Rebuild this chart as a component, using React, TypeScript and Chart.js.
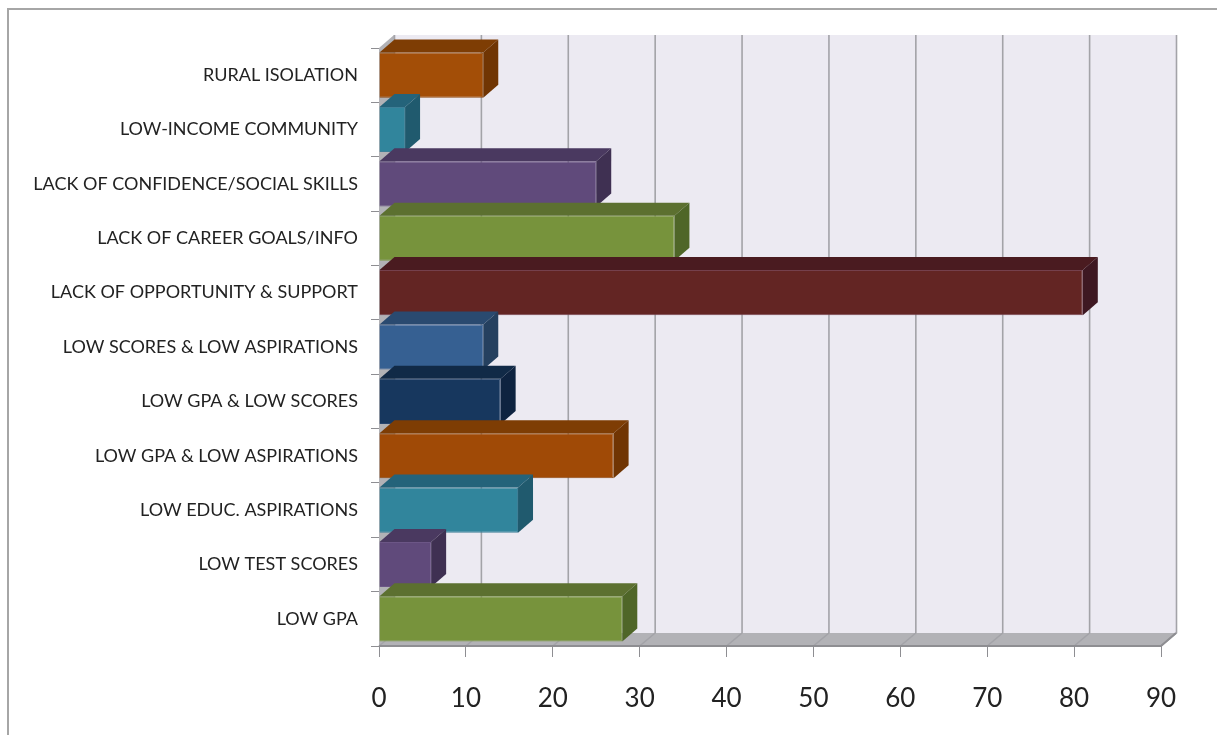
import React, { useEffect, useRef } from "react";
import { Chart, registerables } from "chart.js";

Chart.register(...registerables);

const categories = [
  "RURAL ISOLATION",
  "LOW-INCOME COMMUNITY",
  "LACK OF CONFIDENCE/SOCIAL SKILLS",
  "LACK OF CAREER GOALS/INFO",
  "LACK OF OPPORTUNITY & SUPPORT",
  "LOW SCORES & LOW ASPIRATIONS",
  "LOW GPA & LOW SCORES",
  "LOW GPA & LOW ASPIRATIONS",
  "LOW EDUC. ASPIRATIONS",
  "LOW TEST SCORES",
  "LOW GPA",
];
const values = [12, 3, 25, 34, 81, 12, 14, 27, 16, 6, 28];
const frontColors = ["#A34E07", "#31859C", "#604A7B", "#77933C", "#632523", "#366092", "#17375E", "#A04A06", "#31859C", "#604A7B", "#77933C"];
const topColors = ["#7E3D04", "#24637A", "#4A3960", "#5C7030", "#4A1B20", "#2A4A70", "#112A47", "#7E3D04", "#24637A", "#4A3960", "#5C7030"];
const sideColors = ["#703503", "#205A6E", "#3F3052", "#4F6628", "#3E1822", "#25405F", "#0E2340", "#703503", "#205A6E", "#3F3052", "#4F6628"];
const edgeColors = ["#8F4A10", "#3F8098", "#6C5686", "#7F9A48", "#75404C", "#44699A", "#27456E", "#8F4A10", "#3F8098", "#6C5686", "#7F9A48"];

const DX = 15;
const DY = 13;
const WALL = "#ECEAF2";
const FLOOR = "#B2B2B6";
const GRID = "#A3A3A8";

const poly = (ctx: CanvasRenderingContext2D, pts: number[][], fill: string) => {
  ctx.beginPath();
  pts.forEach(([x, y], i) => (i ? ctx.lineTo(x, y) : ctx.moveTo(x, y)));
  ctx.closePath();
  ctx.fillStyle = fill;
  ctx.fill();
};

const frame3d = {
  id: "frame3d",
  beforeDraw(chart: any) {
    const { ctx, width, height } = chart;
    ctx.save();
    ctx.strokeStyle = "#A6A6A6";
    ctx.lineWidth = 2;
    ctx.beginPath();
    ctx.moveTo(8, height);
    ctx.lineTo(8, 9);
    ctx.lineTo(width, 9);
    ctx.stroke();
    ctx.restore();
  },
  beforeDatasetsDraw(chart: any) {
    const { ctx, chartArea: a, scales } = chart;
    ctx.save();
    poly(ctx, [[a.left + DX, a.top - DY], [a.right + DX, a.top - DY], [a.right + DX, a.bottom - DY], [a.left + DX, a.bottom - DY]], WALL);
    poly(ctx, [[a.left, a.top], [a.left + DX, a.top - DY], [a.left + DX, a.bottom - DY], [a.left, a.bottom]], FLOOR);
    poly(ctx, [[a.left, a.bottom], [a.left + DX, a.bottom - DY], [a.right + DX, a.bottom - DY], [a.right, a.bottom]], FLOOR);
    ctx.strokeStyle = GRID;
    ctx.lineWidth = 1.6;
    for (const t of scales.x.ticks) {
      const x = scales.x.getPixelForValue(t.value);
      ctx.beginPath();
      ctx.moveTo(x, a.bottom);
      ctx.lineTo(x + DX + 0.5, a.bottom - DY);
      ctx.lineTo(x + DX + 0.5, a.top - DY);
      ctx.stroke();
    }
    ctx.strokeStyle = "#8E8E92";
    ctx.lineWidth = 2;
    ctx.beginPath();
    ctx.moveTo(a.left, a.bottom);
    ctx.lineTo(a.right, a.bottom);
    ctx.lineTo(a.right + DX, a.bottom - DY);
    ctx.stroke();
    ctx.restore();
  },
  afterDatasetsDraw(chart: any) {
    const { ctx } = chart;
    const meta = chart.getDatasetMeta(0);
    ctx.save();
    meta.data.forEach((bar: any, i: number) => {
      const { x, y, base, height } = bar.getProps(["x", "y", "base", "height"], true);
      const top = y - height / 2;
      const bottom = y + height / 2;
      poly(ctx, [[base, top], [base + DX, top - DY], [x + DX, top - DY], [x, top]], topColors[i]);
      poly(ctx, [[x, top], [x + DX, top - DY], [x + DX, bottom - DY], [x, bottom]], sideColors[i]);
    });
    ctx.restore();
  },
};

export default function App() {
  const ref = useRef<HTMLCanvasElement>(null);
  useEffect(() => {
    const chart = new Chart(ref.current!, {
      type: "bar",
      data: {
        labels: categories,
        datasets: [
          {
            data: values,
            backgroundColor: frontColors,
            borderColor: edgeColors,
            borderWidth: 1,
            categoryPercentage: 1,
            barPercentage: 0.83,
          },
        ],
      },
      options: {
        indexAxis: "y",
        responsive: false,
        animation: false,
        devicePixelRatio: 1,
        layout: { padding: { top: 48, right: 56, left: 0, bottom: 0 } },
        plugins: { legend: { display: false }, title: { display: false }, tooltip: { enabled: false } },
        scales: {
          x: {
            min: 0,
            max: 90,
            afterFit: (s: any) => { s.height = 89; },
            ticks: {
              stepSize: 10,
              padding: 26,
              maxRotation: 0,
              color: "#222222",
              font: { family: "Lato", size: 26 },
            },
            grid: { drawOnChartArea: false, drawTicks: true, tickLength: 11, color: "#8E8E92", lineWidth: 1 },
            border: { display: false },
          },
          y: {
            afterFit: (s: any) => { s.width = 379; },
            ticks: {
              padding: 13,
              autoSkip: false,
              color: "#222222",
              font: { family: "Lato", size: 18 },
            },
            grid: { drawOnChartArea: false, drawTicks: true, tickLength: 8, color: "#8E8E92", lineWidth: 1 },
            border: { display: true, color: "#8E8E92", width: 1 },
          },
        },
      },
      plugins: [frame3d],
    } as any);
    return () => chart.destroy();
  }, []);
  return (
    <canvas
      ref={ref}
      width={1217}
      height={735}
      style={{ position: "absolute", left: 0, top: 0, width: 1217, height: 735, display: "block" }}
    />
  );
}
